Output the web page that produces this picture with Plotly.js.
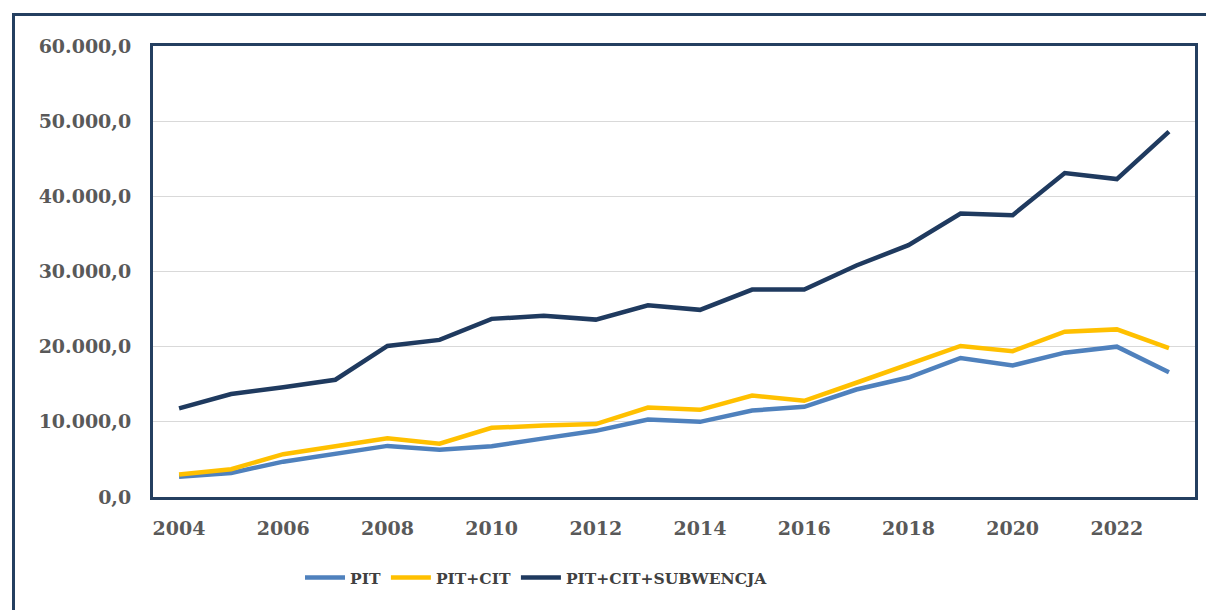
<!DOCTYPE html>
<html>
<head>
<meta charset="utf-8">
<script src="https://cdn.plot.ly/plotly-3.0.1.min.js"></script>
<style>
html,body{margin:0;padding:0;background:#fff;}
#chart{width:1206px;height:610px;}
</style>
</head>
<body>
<div id="chart"></div>
<script>
const years = ['2004','2005','2006','2007','2008','2009','2010','2011','2012','2013','2014','2015','2016','2017','2018','2019','2020','2021','2022','2023'];
const pit = [2700,3200,4700,5800,6800,6300,6750,7800,8800,10300,10000,11500,12000,14300,15900,18500,17500,19200,20000,16600];
const pitCit = [3000,3700,5700,6700,7800,7100,9200,9500,9700,11900,11600,13500,12800,15200,17600,20100,19400,22000,22300,19800];
const pitCitSub = [11800,13700,14600,15600,20100,20900,23700,24100,23600,25500,24900,27600,27600,30800,33500,37700,37500,43100,42300,48600];
const xTickLabels = ['2004','2006','2008','2010','2012','2014','2016','2018','2020','2022'];
const seriesNames = ['PIT','PIT+CIT','PIT+CIT+SUBWENCJA'];

const navy = '#243f60';
const W = 1206, H = 610;
const mL = 153, mR = 11, mT = 46, mB = 113;
const pw = W - mL - mR, ph = H - mT - mB;
const px2x = p => (p - mL) / pw;
const py2y = p => 1 - (p - mT) / ph;

const traces = [
  {x: years, y: pit, name: seriesNames[0], type: 'scatter', mode: 'lines', line: {color: '#4f81bd', width: 4.5}},
  {x: years, y: pitCit, name: seriesNames[1], type: 'scatter', mode: 'lines', line: {color: '#ffc000', width: 4.5}},
  {x: years, y: pitCitSub, name: seriesNames[2], type: 'scatter', mode: 'lines', line: {color: '#1f3a5f', width: 4.5}}
];

const tickFont = {family: 'DejaVu Serif', size: 19, color: '#595959', weight: 'bold'};

const layout = {
  width: W, height: H,
  margin: {l: mL, r: mR, t: mT, b: mB},
  paper_bgcolor: '#fff', plot_bgcolor: '#fff',
  separators: ',.',
  showlegend: true,
  legend: {
    orientation: 'h', x: px2x(300), xanchor: 'left', y: py2y(578), yanchor: 'middle',
    itemwidth: 40,
    font: {family: 'DejaVu Serif', size: 15.5, color: '#404040', weight: 'bold'},
    bgcolor: 'rgba(0,0,0,0)'
  },
  xaxis: {
    type: 'category', tickvals: xTickLabels, ticktext: xTickLabels,
    range: [-0.5, years.length - 0.5],
    showgrid: false, zeroline: false,
    showline: true, mirror: true, linecolor: navy, linewidth: 3,
    ticks: 'outside', ticklen: 12, tickcolor: 'rgba(0,0,0,0)', tickfont: tickFont, automargin: false
  },
  yaxis: {
    range: [0, 60000], dtick: 10000, tickformat: ',.1f',
    showgrid: true, gridcolor: '#d9d9d9', gridwidth: 1.3, zeroline: false,
    showline: true, mirror: true, linecolor: navy, linewidth: 3,
    ticks: 'outside', ticklen: 15, tickcolor: 'rgba(0,0,0,0)', tickfont: tickFont, automargin: false
  },
  shapes: [
    {type: 'line', xref: 'paper', yref: 'paper', x0: px2x(13.5), x1: px2x(13.5), y0: py2y(13), y1: py2y(640), line: {color: navy, width: 3}},
    {type: 'line', xref: 'paper', yref: 'paper', x0: px2x(12), x1: px2x(1240), y0: py2y(14.5), y1: py2y(14.5), line: {color: navy, width: 3}}
  ]
};

Plotly.newPlot('chart', traces, layout, {displayModeBar: false, staticPlot: true});
</script>
</body>
</html>
